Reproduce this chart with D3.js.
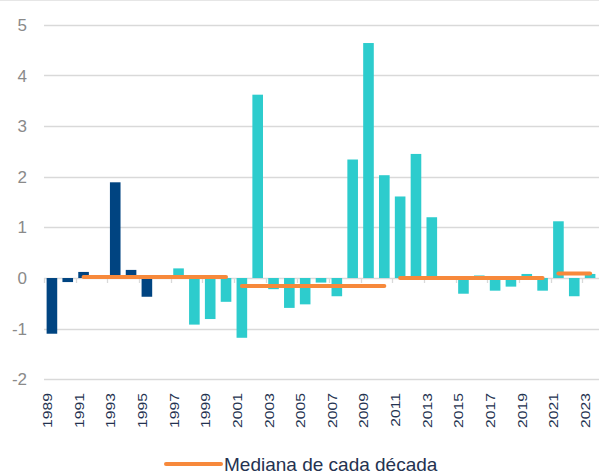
<!DOCTYPE html>
<html>
<head>
<meta charset="utf-8">
<script src="https://cdn.jsdelivr.net/npm/d3@7"></script>
<style>
  html, body { margin: 0; padding: 0; background: #ffffff; }
  svg { display: block; }
</style>
</head>
<body>
<svg id="chart" width="599" height="473"></svg>
<script>
// ---- Data ----
const years = [1989,1990,1991,1992,1993,1994,1995,1996,1997,1998,1999,2000,
  2001,2002,2003,2004,2005,2006,2007,2008,2009,2010,
  2011,2012,2013,2014,2015,2016,2017,2018,2019,2020,
  2021,2022,2023];
const values = [-1.10,-0.08,0.12,0.00,1.89,0.16,-0.37,0.00,0.19,-0.92,-0.81,-0.47,
  -1.18,3.62,-0.22,-0.59,-0.52,-0.09,-0.36,2.34,4.64,2.03,
  1.61,2.45,1.20,0.00,-0.31,0.05,-0.25,-0.17,0.08,-0.25,
  1.12,-0.36,0.08];
const darkUntil = 1995;            // bars up to this year drawn in dark blue
const medianStart = [1991, 2001, 2011, 2021];
const medianEnd   = [2000, 2010, 2020, 2023];
const medianValues = [0.02, -0.16, 0.0, 0.09];
const yTicks = [-2,-1,0,1,2,3,4,5];
const xLabelYears = years.filter((y, i) => i % 2 === 0);
const legendLabel = "Mediana de cada década";

// ---- Styles ----
const colDark = "#004481", colTeal = "#2DCCCD", colOrange = "#F7893B";
const gridCol = "#d9d9d9";

const svg = d3.select("#chart");

const x = d3.scaleBand().domain(years).range([44, 598]).paddingInner(0.33).paddingOuter(0.165);
const y = d3.scaleLinear().domain([-2, 5]).range([379.3, 24.8]);
const step = x.step();
const x0 = x.range()[0];

// top border line
svg.append("line").attr("x1", 0).attr("x2", 599).attr("y1", 0.5).attr("y2", 0.5)
  .attr("stroke", "#e6e6e6").attr("stroke-width", 1);

// gridlines
svg.append("g").selectAll("line").data(yTicks).join("line")
  .attr("x1", x0).attr("x2", 599)
  .attr("y1", d => Math.round(y(d)) + 0.5).attr("y2", d => Math.round(y(d)) + 0.5)
  .attr("stroke", gridCol).attr("stroke-width", 1.3);

// y labels
svg.append("g").selectAll("text").data(yTicks).join("text")
  .attr("x", 27).attr("y", d => y(d)).attr("dy", "0.36em")
  .attr("text-anchor", "end")
  .attr("font-family", "Liberation Sans, Arial, sans-serif")
  .attr("font-size", 17).attr("fill", "#8a8a8a")
  .text(d => d);

// x axis tick marks at every second category boundary
const tickIdx = d3.range(0, years.length + 1, 2);
svg.append("g").selectAll("line").data(tickIdx).join("line")
  .attr("x1", d => Math.round(x0 + d * step) + 0.5).attr("x2", d => Math.round(x0 + d * step) + 0.5)
  .attr("y1", y(0)).attr("y2", y(0) + 5)
  .attr("stroke", gridCol).attr("stroke-width", 1.3);

// bars
svg.append("g").selectAll("rect").data(years).join("rect")
  .attr("x", d => x(d))
  .attr("width", x.bandwidth())
  .attr("y", (d, i) => y(Math.max(0, values[i])))
  .attr("height", (d, i) => Math.abs(y(values[i]) - y(0)))
  .attr("fill", d => d <= darkUntil ? colDark : colTeal);

// median lines
svg.append("g").selectAll("line").data(medianValues).join("line")
  .attr("x1", (d, i) => x(medianStart[i]) + x.bandwidth() / 2)
  .attr("x2", (d, i) => x(medianEnd[i]) + x.bandwidth() / 2)
  .attr("y1", d => y(d)).attr("y2", d => y(d))
  .attr("stroke", colOrange).attr("stroke-width", 4).attr("stroke-linecap", "round");

// x labels (rotated)
svg.append("g").selectAll("text").data(xLabelYears).join("text")
  .attr("transform", d => `translate(${x(d) + x.bandwidth() / 2},393) rotate(-90) scale(1.31,1)`)
  .attr("text-anchor", "end")
  .attr("font-family", "Liberation Sans, Arial, sans-serif")
  .attr("font-size", 12).attr("fill", "#243250")
  .text(d => d);

// legend
const lg = svg.append("g");
lg.append("line").attr("x1", 166).attr("x2", 221).attr("y1", 464).attr("y2", 464)
  .attr("stroke", colOrange).attr("stroke-width", 4).attr("stroke-linecap", "round");
lg.append("text").attr("x", 224).attr("y", 470.5)
  .attr("font-family", "Liberation Sans, Arial, sans-serif")
  .attr("font-size", 19).attr("fill", "#243250")
  .text(legendLabel);
</script>
</body>
</html>
